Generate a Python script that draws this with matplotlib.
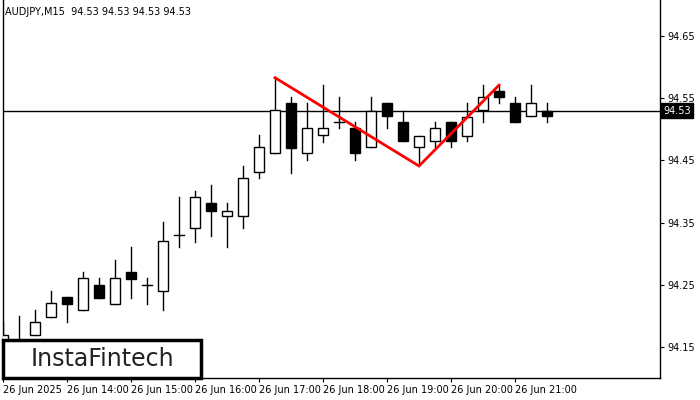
import matplotlib
matplotlib.use("Agg")
import matplotlib.pyplot as plt
from matplotlib.patches import Rectangle

opens = [94.153, 94.145, 94.169, 94.198, 94.230, 94.209, 94.250, 94.219, 94.271, 94.250,
         94.240, 94.330, 94.341, 94.382, 94.361, 94.361, 94.431, 94.462, 94.542, 94.462,
         94.491, 94.512, 94.502, 94.472, 94.542, 94.512, 94.472, 94.481, 94.512, 94.489,
         94.531, 94.562, 94.542, 94.521, 94.529]
highs = [94.190, 94.200, 94.209, 94.240, 94.230, 94.271, 94.261, 94.290, 94.311, 94.261,
         94.351, 94.391, 94.401, 94.410, 94.382, 94.441, 94.491, 94.583, 94.552, 94.542,
         94.571, 94.552, 94.512, 94.552, 94.542, 94.529, 94.489, 94.512, 94.512, 94.542,
         94.571, 94.571, 94.552, 94.571, 94.542]
lows = [94.145, 94.137, 94.169, 94.198, 94.190, 94.209, 94.229, 94.219, 94.229, 94.219,
        94.209, 94.311, 94.319, 94.328, 94.311, 94.341, 94.422, 94.462, 94.430, 94.451,
        94.480, 94.502, 94.451, 94.472, 94.502, 94.481, 94.441, 94.472, 94.472, 94.481,
        94.512, 94.542, 94.512, 94.521, 94.512]
closes = [94.169, 94.161, 94.190, 94.221, 94.219, 94.261, 94.229, 94.261, 94.259, 94.250,
          94.320, 94.330, 94.391, 94.369, 94.369, 94.422, 94.472, 94.531, 94.470, 94.502,
          94.502, 94.512, 94.462, 94.529, 94.521, 94.481, 94.489, 94.502, 94.481, 94.520,
          94.552, 94.552, 94.512, 94.542, 94.521]

pattern_x = [17, 26, 31]
pattern_y = [94.583, 94.441, 94.571]
last_price = 94.53

yticks = [94.15, 94.25, 94.35, 94.45, 94.55, 94.65]
xtick_pos = [0, 4, 8, 12, 16, 20, 24, 28, 32]
xtick_labels = ["26 Jun 2025", "26 Jun 14:00", "26 Jun 15:00", "26 Jun 16:00", "26 Jun 17:00",
                "26 Jun 18:00", "26 Jun 19:00", "26 Jun 20:00", "26 Jun 21:00"]

fig = plt.figure(figsize=(7, 4), dpi=100)
ax = fig.add_axes([3 / 700, 22 / 400, 657 / 700, 378 / 400])
ax.set_xlim(0 - 0.0, 657 / 16)
ax.set_ylim(94.100, 94.708)

w = 0.62
for i, (o, h, l, c) in enumerate(zip(opens, highs, lows, closes)):
    ax.plot([i, i], [l, h], color="black", lw=1, zorder=2)
    bot, top = min(o, c), max(o, c)
    if abs(c - o) < 0.002:
        ax.plot([i - w / 2, i + w / 2], [o, o], color="black", lw=1, zorder=3)
        continue
    face = "white" if c > o else "black"
    ax.add_patch(Rectangle((i - w / 2, bot), w, top - bot, facecolor=face,
                           edgecolor="black", lw=1, zorder=3))

ax.axhline(last_price, color="black", lw=1, zorder=1)
ax.plot(pattern_x, pattern_y, color="red", lw=2, zorder=4)

ax.yaxis.tick_right()
ax.set_yticks(yticks)
ax.set_yticklabels([f"{v:.2f}" for v in yticks], fontsize=7)
ax.set_xticks(xtick_pos)
ax.set_xticklabels(xtick_labels, fontsize=7, ha="left")
ax.tick_params(length=3, pad=2)
for s in ax.spines.values():
    s.set_linewidth(1)
ax.spines["top"].set_visible(False)

ax.text(1.005, last_price, "94.53", transform=ax.get_yaxis_transform(), fontsize=7,
        color="white", va="center", ha="left",
        bbox=dict(boxstyle="square,pad=0.25", fc="black", ec="black"))

fig.text(5 / 700, 1 - 12 / 400, "AUDJPY,M15  94.53 94.53 94.53 94.53", fontsize=7, va="center")

fig.patches.append(Rectangle((3 / 700, 22 / 400), 198 / 700, 38 / 400, transform=fig.transFigure,
                             facecolor="white", edgecolor="black", lw=2.5, zorder=10))
fig.text(102 / 700, 41 / 400, "InstaFintech", fontsize=17, ha="center", va="center",
         color="#222222", zorder=11)

fig.savefig("out.png", dpi=100)
